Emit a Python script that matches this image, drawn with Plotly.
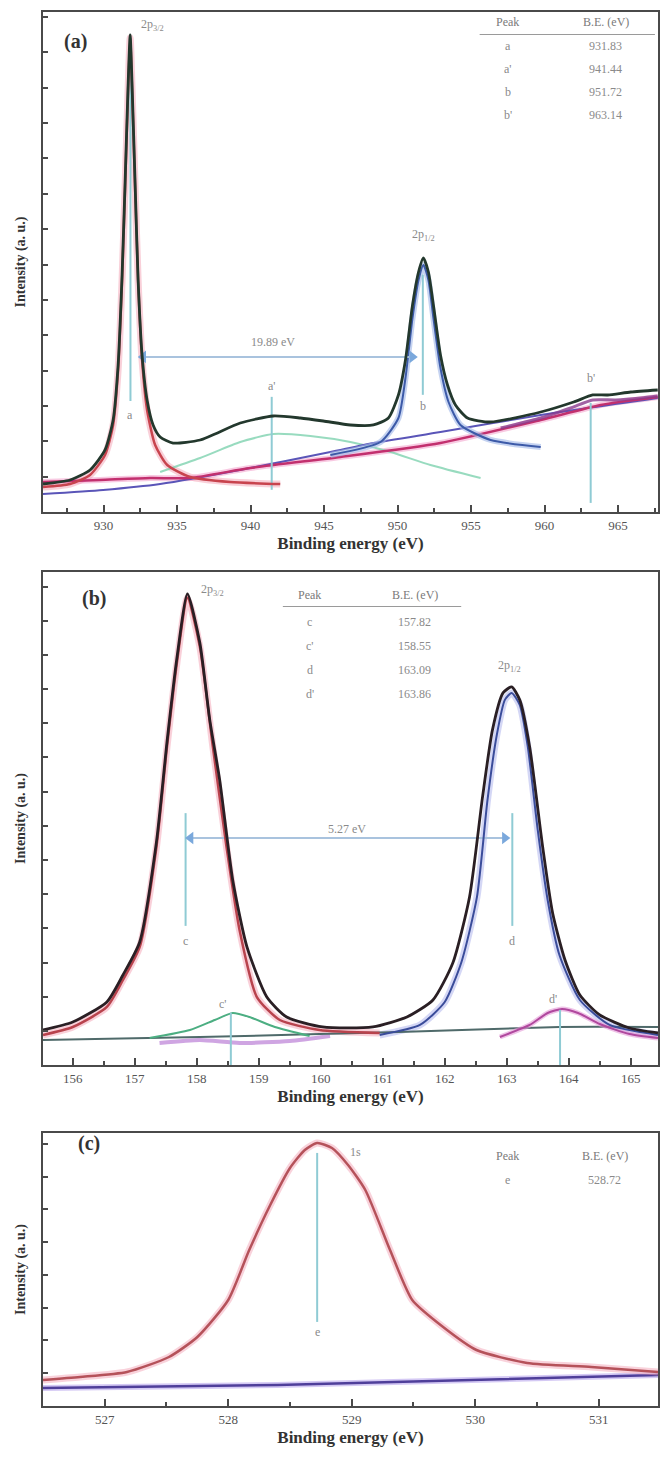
import plotly.graph_objects as go

# ---------------- Panel (a): Cu 2p ----------------
a_red_x = [925.88, 927.72, 929.08, 930.10, 930.65, 930.99, 931.26, 931.46, 931.67, 931.81, 931.94, 932.15, 932.35, 932.62, 932.96, 933.51, 934.33, 935.89, 938.62, 942.02]
a_red_y = [4.95, 5.54, 7.33, 11.29, 17.23, 28.12, 45.94, 63.76, 83.56, 93.86, 83.56, 63.76, 45.94, 30.10, 20.20, 13.27, 9.31, 6.93, 5.94, 5.54]

a_exp_x = [925.88, 927.72, 929.08, 930.10, 930.65, 930.99, 931.26, 931.46, 931.67, 931.81, 931.94, 932.15, 932.35, 932.62, 932.96, 933.37, 933.85, 934.73, 936.57, 939.30, 941.55, 943.39, 944.95, 946.79, 948.36, 949.38, 950.06, 950.54, 951.02, 951.43, 951.76, 952.10, 952.44, 952.92, 953.40, 953.94, 954.76, 956.33, 959.74, 961.98, 963.28, 964.30, 965.87, 967.70]
a_exp_y = [5.54, 6.34, 8.32, 12.28, 18.22, 29.11, 46.93, 64.75, 84.55, 94.46, 84.55, 64.75, 45.94, 31.09, 22.18, 17.23, 14.85, 13.66, 14.26, 17.62, 19.01, 18.61, 18.02, 17.23, 17.23, 18.61, 23.17, 30.10, 40.99, 47.52, 50.30, 47.52, 40.99, 31.09, 25.15, 21.19, 18.61, 17.82, 19.80, 21.78, 23.17, 23.17, 23.76, 24.16]

a_pink_x = [925.88, 929.76, 933.17, 935.89, 939.98, 946.11, 952.92, 959.74, 963.82, 967.70]
a_pink_y = [5.94, 6.34, 6.73, 6.73, 8.71, 10.89, 13.66, 18.22, 21.19, 22.77]

a_base_x = [925.88, 929.97, 933.85, 939.98, 945.43, 948.36, 952.92, 959.74, 967.70]
a_base_y = [3.56, 4.36, 5.54, 8.71, 11.88, 13.66, 15.84, 19.21, 22.57]

a_sat_x = [933.85, 936.57, 939.30, 941.55, 944.07, 946.79, 949.52, 952.24, 955.65]
a_sat_y = [7.92, 10.69, 13.86, 15.45, 15.05, 13.86, 11.88, 9.31, 6.73]

a_b_x = [945.43, 948.84, 950.06, 950.54, 951.02, 951.43, 951.76, 952.10, 952.44, 952.92, 953.47, 954.28, 956.33, 959.74]
a_b_y = [11.29, 13.86, 18.61, 26.53, 38.42, 45.94, 48.91, 45.94, 38.42, 28.51, 21.78, 17.23, 14.26, 12.87]

a_bsat_x = [957.02, 959.74, 961.78, 963.28, 964.84, 966.55, 967.70]
a_bsat_y = [16.63, 18.61, 20.59, 22.18, 22.18, 22.57, 22.97]

a_peaks = ["a", "a'", "b", "b'"]
a_be = [931.83, 941.44, 951.72, 963.14]
a_be_text = ["931.83", "941.44", "951.72", "963.14"]
a_line_top = [88.0, 22.8, 47.0, 21.6]
a_line_bot = [22.0, 4.4, 23.2, 1.8]
a_lab_y = [19.3, 24.9, 21.0, 26.5]
a_ticks = [930, 935, 940, 945, 950, 955, 960, 965]
a_split = [932.7, 951.0]
a_split_text = "19.89 eV"

# ---------------- Panel (b): S 2p ----------------
b_red_x = [155.52, 156.00, 156.55, 156.81, 157.08, 157.35, 157.52, 157.68, 157.85, 158.05, 158.26, 158.48, 158.69, 158.97, 159.34, 159.98, 160.95]
b_red_y = [6.15, 7.79, 11.89, 17.42, 24.18, 44.67, 65.16, 82.38, 95.70, 85.66, 65.16, 44.67, 27.66, 13.93, 9.22, 7.17, 6.56]

b_exp_x = [155.52, 156.00, 156.55, 156.81, 157.08, 157.35, 157.52, 157.68, 157.85, 158.05, 158.21, 158.37, 158.58, 158.81, 159.13, 159.45, 160.03, 160.84, 161.39, 161.81, 162.13, 162.40, 162.61, 162.77, 162.94, 163.08, 163.21, 163.37, 163.58, 163.74, 163.94, 164.18, 164.50, 164.98, 165.44]
b_exp_y = [7.17, 8.81, 12.91, 18.44, 25.20, 45.70, 66.19, 83.40, 96.52, 86.48, 70.70, 58.40, 37.91, 24.18, 13.93, 9.84, 7.79, 7.79, 9.84, 13.32, 20.90, 34.43, 54.92, 68.65, 76.23, 77.46, 74.80, 65.16, 44.67, 31.15, 21.52, 14.34, 10.25, 7.58, 6.56]

b_blue_x = [160.95, 161.60, 162.00, 162.27, 162.52, 162.69, 162.84, 162.97, 163.08, 163.21, 163.34, 163.50, 163.66, 163.85, 164.18, 164.66, 165.44]
b_blue_y = [6.15, 8.20, 12.91, 21.11, 34.43, 54.30, 67.62, 74.80, 76.23, 73.77, 65.16, 48.16, 33.81, 22.54, 13.32, 8.20, 6.15]

b_base_x = [155.52, 158.05, 161.27, 163.85, 165.44]
b_base_y = [5.12, 5.74, 6.76, 7.79, 7.79]

b_green_x = [157.24, 157.89, 158.29, 158.58, 158.85, 159.26, 159.82]
b_green_y = [5.53, 7.17, 9.22, 10.66, 9.84, 7.79, 5.94]

b_purple_x = [157.40, 158.05, 158.69, 159.50, 160.15]
b_purple_y = [4.51, 5.12, 4.51, 4.92, 5.94]

b_mag_x = [162.89, 163.37, 163.66, 163.89, 164.15, 164.50, 164.98, 165.44]
b_mag_y = [5.74, 8.20, 10.66, 11.48, 10.66, 8.40, 6.35, 5.53]

b_peaks = ["c", "c'", "d", "d'"]
b_be = [157.82, 158.55, 163.09, 163.86]
b_be_text = ["157.82", "158.55", "163.09", "163.86"]
b_line_top = [51.6, 10.7, 51.6, 11.3]
b_line_bot = [28.5, 0.0, 28.5, 0.0]
b_lab_y = [25.5, 12.6, 25.5, 13.6]
b_ticks = [156, 157, 158, 159, 160, 161, 162, 163, 164, 165]
b_split = [157.9, 162.97]
b_split_text = "5.27 eV"

# ---------------- Panel (c): O 1s ----------------
c_x = [526.50, 526.80, 527.18, 527.52, 527.75, 528.00, 528.17, 528.34, 528.50, 528.62, 528.72, 528.84, 528.97, 529.11, 529.31, 529.49, 529.74, 530.01, 530.42, 530.94, 531.48]
c_y = [9.52, 10.62, 12.45, 17.95, 25.27, 38.83, 57.14, 73.63, 87.18, 93.77, 96.34, 94.51, 88.28, 79.12, 57.14, 38.83, 28.94, 20.51, 15.75, 14.29, 12.45]
c_base_x = [526.50, 528.40, 531.48]
c_base_y = [6.59, 7.69, 11.36]
c_peaks = ["e"]
c_be = [528.72]
c_be_text = ["528.72"]
c_line_top = [92.7]
c_line_bot = [30.8]
c_lab_y = [27.0]
c_ticks = [527, 528, 529, 530, 531]

SERIF = "Liberation Serif"
fig = go.Figure()


def line(xs, ys, color, width, ax, opacity=1.0):
    fig.add_trace(go.Scatter(x=xs, y=ys, mode="lines", xaxis="x" + ax, yaxis="y" + ax,
                             line=dict(color=color, width=width, shape="spline", smoothing=0.6),
                             opacity=opacity, hoverinfo="skip"))


def vlines(be, top, bot, ax, color="#8fcbd4"):
    for x0, t, b in zip(be, top, bot):
        fig.add_trace(go.Scatter(x=[x0, x0], y=[t, b], mode="lines", xaxis="x" + ax, yaxis="y" + ax,
                                 line=dict(color=color, width=2), hoverinfo="skip"))


def darrow(xs, y, ax):
    fig.add_trace(go.Scatter(x=xs, y=[y, y], mode="lines+markers", xaxis="x" + ax, yaxis="y" + ax,
                             line=dict(color="#a9c3de", width=2),
                             marker=dict(symbol=["triangle-left", "triangle-right"], size=11,
                                         color="#7aa8dc", line=dict(width=0)),
                             hoverinfo="skip"))


# panel a
line(a_red_x, a_red_y, "#f5a3b5", 7, "", 0.5)
line(a_pink_x, a_pink_y, "#f08cc0", 6, "", 0.45)
line(a_sat_x, a_sat_y, "#7fd3b0", 2, "", 0.8)
line(a_base_x, a_base_y, "#5a55b8", 2, "")
line(a_pink_x, a_pink_y, "#c2306e", 2.5, "")
line(a_bsat_x, a_bsat_y, "#8a3c8e", 3, "", 0.8)
line(a_b_x, a_b_y, "#9fb6e8", 6, "", 0.6)
line(a_b_x, a_b_y, "#3c5aa8", 2, "")
vlines(a_be, a_line_top, a_line_bot, "")
darrow(a_split, 30.7, "")
line(a_red_x, a_red_y, "#c8444e", 2.5, "")
line(a_exp_x, a_exp_y, "#23382d", 2.8, "")

# panel b
line(b_red_x, b_red_y, "#f5a3b5", 7, "2", 0.5)
line(b_blue_x, b_blue_y, "#b9bdf0", 7, "2", 0.6)
line(b_purple_x, b_purple_y, "#b06ad0", 4, "2", 0.6)
line(b_base_x, b_base_y, "#4f6a6a", 2, "2")
line(b_green_x, b_green_y, "#4cae82", 2, "2")
line(b_mag_x, b_mag_y, "#e59ad8", 5, "2", 0.6)
line(b_mag_x, b_mag_y, "#b0489e", 2, "2")
vlines(b_be, b_line_top, b_line_bot, "2")
darrow(b_split, 46.5, "2")
line(b_blue_x, b_blue_y, "#3a4c9a", 2, "2")
line(b_red_x, b_red_y, "#b8434d", 2.5, "2")
line(b_exp_x, b_exp_y, "#2a1f24", 2.8, "2")

# panel c
line(c_base_x, c_base_y, "#b9a6ee", 6, "3", 0.6)
line(c_base_x, c_base_y, "#4f3f9a", 2.5, "3")
line(c_x, c_y, "#f4a6b8", 7, "3", 0.5)
vlines(c_be, c_line_top, c_line_bot, "3")
line(c_x, c_y, "#b5525a", 2.5, "3")

H = 1461.0


def py(p):
    return (H - p) / H


ax_common = dict(showline=True, linecolor="#4a4a4a", linewidth=2, mirror=True, showgrid=False,
                 zeroline=False, ticks="inside", tickcolor="#4a4a4a", tickwidth=1.5)
xfont = dict(family=SERIF, size=13, color="#555555")
xtitle = dict(text="<b>Binding energy (eV)</b>", font=dict(family=SERIF, size=17, color="#333333"), standoff=6)
ytitle = dict(text="<b>Intensity (a. u.)</b>", font=dict(family=SERIF, size=14, color="#333333"), standoff=12)

fig.update_layout(
    width=661, height=1461, margin=dict(l=43, r=3, t=0, b=0),
    paper_bgcolor="white", plot_bgcolor="white", showlegend=False,
    xaxis=dict(**ax_common, domain=[0, 1], range=[925.88, 967.72], tickvals=a_ticks, ticklen=7,
               tickfont=xfont, anchor="y", title=xtitle,
               minor=dict(ticks="inside", ticklen=4, dtick=2.5, tickcolor="#4a4a4a")),
    yaxis=dict(**ax_common, domain=[py(512), py(12)], range=[0, 99], dtick=7, ticklen=5,
               showticklabels=False, anchor="x", title=ytitle),
    xaxis2=dict(**ax_common, domain=[0, 1], range=[155.52, 165.44], tickvals=b_ticks, ticklen=7,
                tickfont=xfont, anchor="y2", title=xtitle,
                minor=dict(ticks="inside", ticklen=4, dtick=0.5, tickcolor="#4a4a4a")),
    yaxis2=dict(**ax_common, domain=[py(1065), py(572)], range=[0, 101], dtick=7, ticklen=5,
                showticklabels=False, anchor="x2", title=ytitle),
    xaxis3=dict(**ax_common, domain=[0, 1], range=[526.5, 531.48], tickvals=c_ticks, ticklen=7,
                tickfont=xfont, anchor="y3", title=xtitle,
                minor=dict(ticks="inside", ticklen=4, dtick=0.5, tickcolor="#4a4a4a")),
    yaxis3=dict(**ax_common, domain=[py(1406), py(1133)], range=[0, 100], dtick=12, ticklen=5,
                showticklabels=False, anchor="x3", title=ytitle),
)

ann = []
grey = "#8a8a8a"


def txt(x, y, s, ax, size=12, color=grey):
    ann.append(dict(x=x, y=y, xref="x" + ax, yref="y" + ax, text=s,
                    showarrow=False, font=dict(family=SERIF, size=size, color=color)))


def table(ax, xc1, xc2, yh, rows_y, names, vals):
    txt(xc1, yh, "Peak", ax, 12, "#7a7a7a")
    txt(xc2, yh, "B.E. (eV)", ax, 12, "#7a7a7a")
    for n, v, yy in zip(names, vals, rows_y):
        txt(xc1, yy, n, ax)
        txt(xc2, yy, v, ax)


table("", 957.49, 964.16, 97.0, [92.3, 87.7, 83.2, 78.6], a_peaks, a_be_text)
table("2", 159.82, 161.52, 96.3, [90.8, 85.9, 80.9, 76.0], b_peaks, b_be_text)
table("3", 530.26, 531.05, 91.6, [82.8], c_peaks, c_be_text)

for n, x0, yy in zip(a_peaks, a_be, a_lab_y):
    txt(x0, yy, n, "")
for n, x0, yy in zip(b_peaks, b_be, b_lab_y):
    txt(x0 - (0.12 if "'" in n else 0), yy, n, "2")
for n, x0, yy in zip(c_peaks, c_be, c_lab_y):
    txt(x0, yy, n, "3")

txt(933.3, 96.4, "2p<sub>3/2</sub>", "")
txt(951.76, 54.8, "2p<sub>1/2</sub>", "")
txt(158.25, 97.3, "2p<sub>3/2</sub>", "2")
txt(163.05, 81.8, "2p<sub>1/2</sub>", "2")
txt(529.03, 93.0, "1s", "3")

txt(941.5, 33.6, a_split_text, "")
txt(160.42, 48.4, b_split_text, "2")

for lab, xp, yp in [("(a)", 62, 28), ("(b)", 80, 598), ("(c)", 76, 1157)]:
    ann.append(dict(x=(xp - 43) / 615.0, y=py(yp), xref="paper", yref="paper", text="<b>%s</b>" % lab,
                    showarrow=False, font=dict(family=SERIF, size=20, color="#333333")))

fig.update_layout(annotations=ann)

fig.add_shape(type="line", xref="x domain", yref="y domain", x0=0.71, x1=0.995, y0=0.955, y1=0.955,
              line=dict(color="#9a9a9a", width=1.2))
fig.add_shape(type="line", xref="x2 domain", yref="y2 domain", x0=0.39, x1=0.68, y0=0.93, y1=0.93,
              line=dict(color="#9a9a9a", width=1.2))

fig.write_html("out.html", config={"displayModeBar": False},
               post_script="document.body.style.margin='0px';document.body.style.overflow='hidden';")
